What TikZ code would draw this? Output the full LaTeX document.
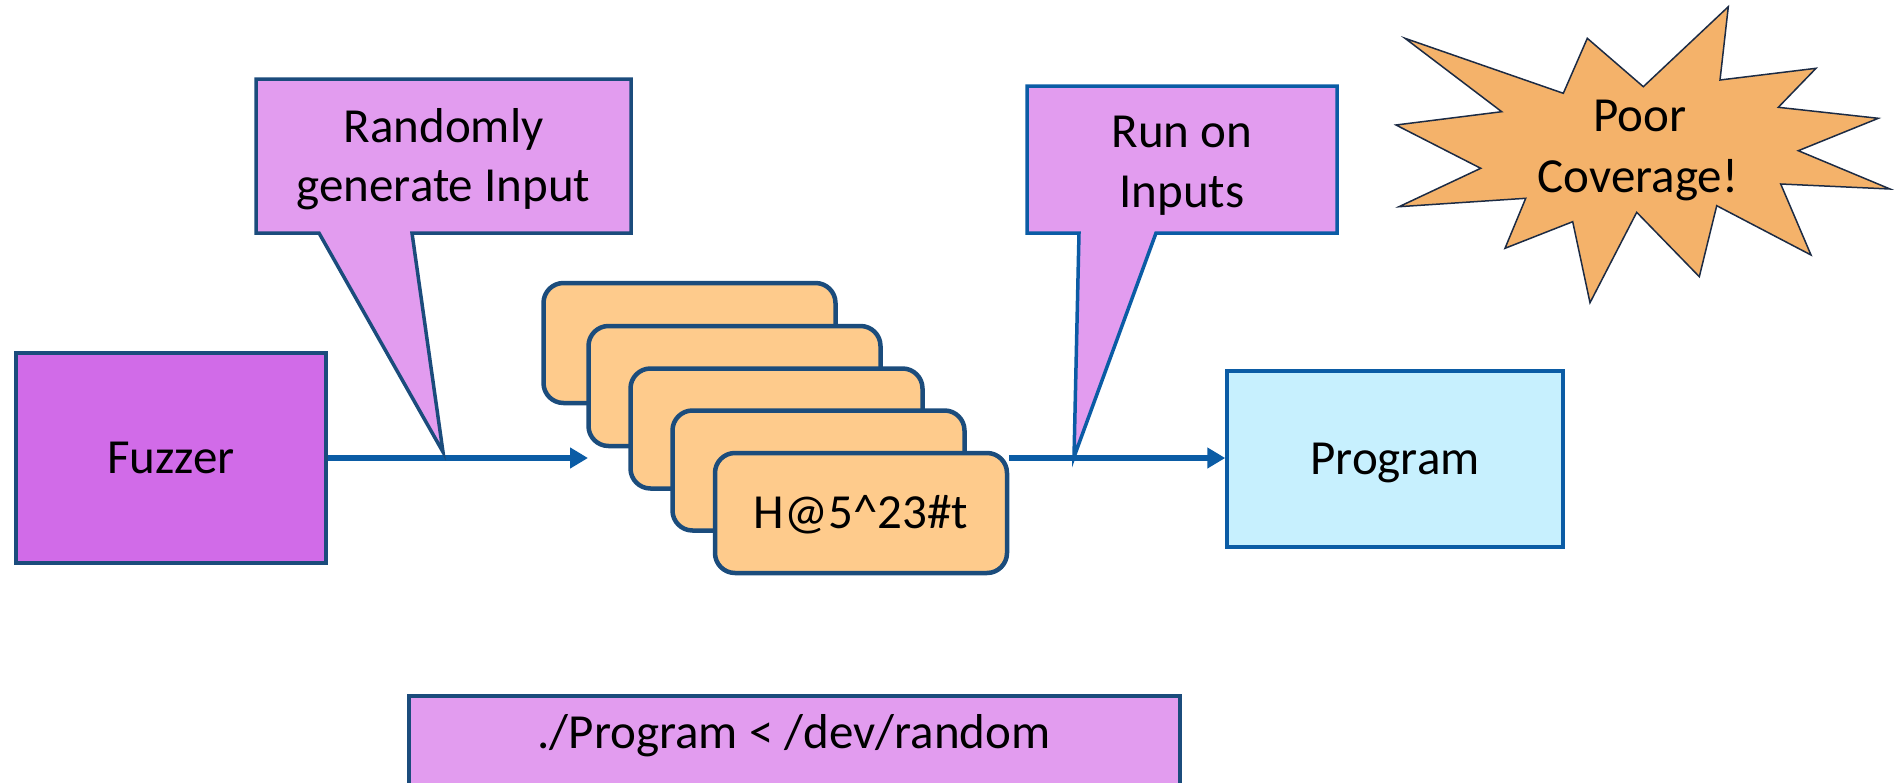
\documentclass[tikz,border=0pt]{standalone}
\usepackage{fontspec}
\setmainfont{Carlito}
\usetikzlibrary{arrows.meta}
\definecolor{fuzzfill}{HTML}{D16BE8}
\definecolor{callfill}{HTML}{E29CEF}
\definecolor{cardfill}{HTML}{FECB8C}
\definecolor{progfill}{HTML}{C7F0FE}
\definecolor{burstfill}{HTML}{F4B26A}
\definecolor{navy}{HTML}{1B4C7C}
\definecolor{flowblue}{HTML}{0B5CA5}
\definecolor{burstline}{HTML}{1C2B44}

\begin{document}
\begin{tikzpicture}[x=1pt,y=-1pt,
  font=\fontsize{49}{59.5}\selectfont,
  plainbox/.style={draw=navy,line width=3.5pt,inner sep=0pt,text height=31pt,text depth=0pt},
  card/.style={draw=navy,fill=cardfill,line width=4.5pt,rounded corners=20pt,inner sep=0pt,
    minimum width=292pt,minimum height=120pt,text height=31pt,text depth=0pt},
  flow/.style={draw=flowblue,line width=6pt,-{Triangle[length=18pt,width=20pt]}},
  bubble/.style={draw=navy,fill=callfill,line width=3.5pt,line join=miter},
  txt/.style={anchor=base,inner sep=0pt}
]
\useasboundingbox (0,0) rectangle (1901,782);
\clip (0,0) rectangle (1901,782);

% main boxes
\node (fuzzer) [plainbox,fill=fuzzfill,minimum width=310pt,minimum height=210pt] at (171,458) {Fuzzer};
\node (program) [plainbox,draw=flowblue,fill=progfill,minimum width=336pt,minimum height=176pt] at (1395,459) {Program};

% stack of generated inputs, back to front
\node (card1) [card] at (689.5,343) {};
\node (card2) [card] at (734.5,386) {};
\node (card3) [card] at (776.5,428.5) {};
\node (card4) [card] at (818.5,470.5) {};
\node (card5) [card] at (861,513) {H@5\textasciicircum 23\#t};

% flow arrows
\coordinate (inend) at (588,458);
\coordinate (outstart) at (card5.east |- 0,458);
\draw[flow] (fuzzer.east |- 0,458) -- (inend);
\draw[flow] (outstart) -- (program.west |- 0,458);

% callout: randomly generate input
\coordinate (gentip) at (443,452);
\draw[bubble] (256,79) -- (631,79) -- (631,233) -- (412,233) -- (gentip) -- (319,233) -- (256,233) -- cycle;
\node (gen1) [txt] at (443.5,142.7) {Randomly};
\node (gen2) [txt] at (443.5,201.7) {generate Input};

% callout: run on inputs
\coordinate (runtip) at (1074,457);
\draw[bubble,draw=flowblue] (1027,86) -- (1337,86) -- (1337,233) -- (1156,233) -- (runtip) -- (1079,233) -- (1027,233) -- cycle;
\node (run1) [txt] at (1182,147) {Run on};
\node (run2) [txt] at (1182,207) {Inputs};

% starburst
\draw[fill=burstfill,draw=burstline,line width=1.5pt,line join=miter]
  (1405.0,38.3) -- (1563.3,93.3) -- (1587.3,38.3) -- (1643.3,86.7) -- (1728.3,6.7) -- (1720,80)
  -- (1816,68.3) -- (1778.3,107.3) -- (1878.3,118.3) -- (1798.3,150.7) -- (1890,189) -- (1780.7,184)
  -- (1811,255) -- (1716.7,205.7) -- (1699.3,276.7) -- (1636.7,212.3) -- (1590,302.7) -- (1572.7,221.7)
  -- (1505,248.3) -- (1525.7,198.3) -- (1399,206.7) -- (1480.7,168.3) -- (1396,125) -- (1501.7,111.7) -- cycle;
\node (poor1) [txt] at (1640,131) {Poor};
\node (poor2) [txt] at (1638,192) {Coverage!};

% command line
\node (cmdbox) [plainbox,fill=callfill,minimum width=771pt,minimum height=140pt] at (794.5,766) {};
\node (cmd) [txt] at (794,748) {./Program < /dev/random};
\end{tikzpicture}
\end{document}
